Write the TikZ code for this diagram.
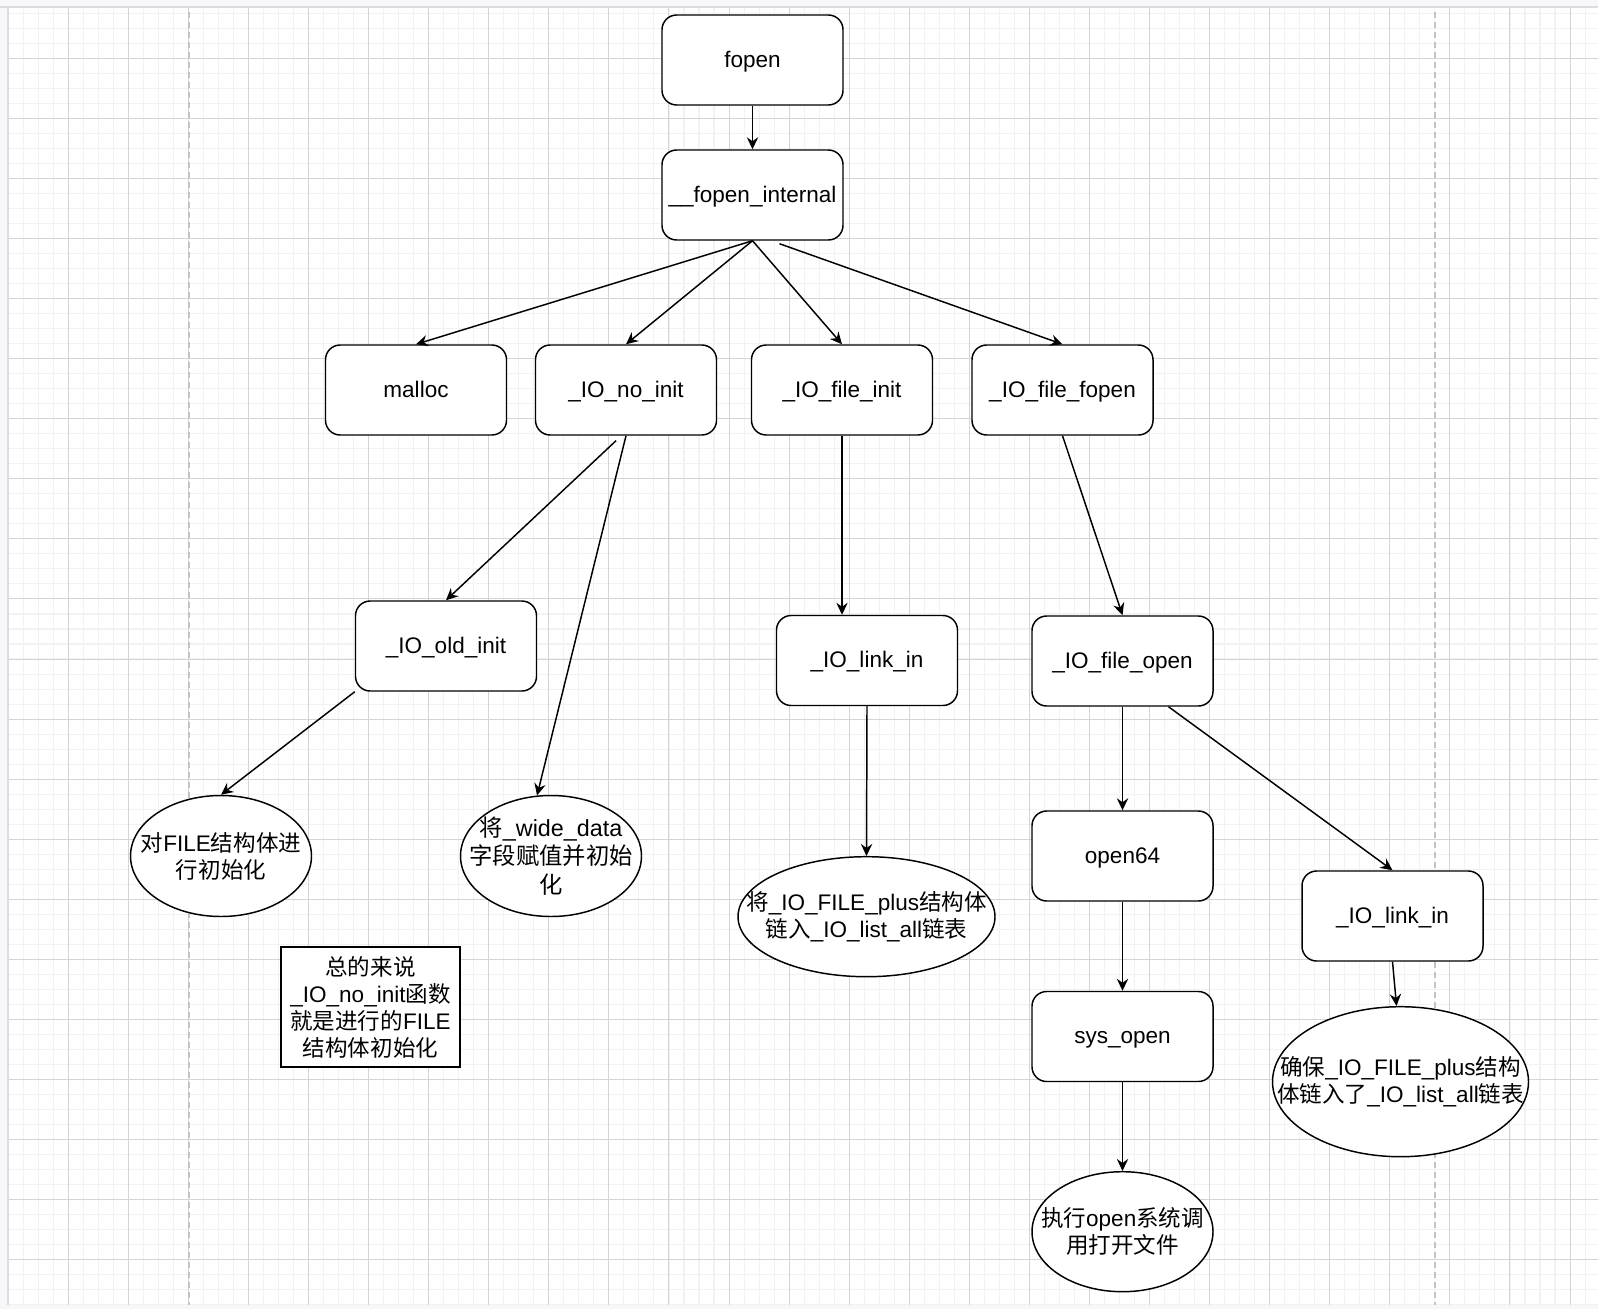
\documentclass[tikz,border=0pt]{standalone}
\usepackage{fontspec}
\setmainfont{Liberation Sans}
\newfontfamily\cjkfont{Noto Sans CJK SC}
\newcommand\zh[1]{{\cjkfont #1}}
\usetikzlibrary{arrows.meta,calc,shapes.geometric}
\definecolor{outbg}{RGB}{247,247,249}
\definecolor{minorc}{RGB}{242,242,242}
\definecolor{majorc}{RGB}{212,212,212}
\definecolor{dashc}{RGB}{195,195,195}
\definecolor{edgec}{RGB}{220,220,224}
\begin{document}
\begin{tikzpicture}[x=0.75pt,y=-0.75pt,
  base/.style={font=\fontsize{16.9}{20.25}\selectfont},
  box/.style={base, draw=black, line width=1.1pt, fill=white, rounded corners=11pt,
    minimum width=135.75pt, minimum height=67.5pt, inner sep=0pt,
    text height=13pt, text depth=2pt},
  oval/.style={draw=black, line width=1.1pt, fill=white, ellipse, inner sep=0pt},
  txt/.style={base, align=center, inner sep=0pt},
  note/.style={base, draw=black, line width=1.1pt, fill=white, minimum width=134.25pt,
    minimum height=90pt, inner sep=0pt, align=center},
  arr/.style={draw=black, line width=1.1pt, -{Stealth[length=9pt,width=8.5pt,inset=3pt]}},
  minorg/.style={draw=minorc, line width=0.8pt},
  majorg/.style={draw=majorc, line width=0.75pt},
  pagebreak/.style={draw=dashc, line width=1.5pt, dash pattern=on 4.5pt off 3pt}
]
\useasboundingbox (0,0) rectangle (1598,1309);
% background and grid
\fill[outbg] (0,0) rectangle (1598,1309);
\fill[white] (8,7) rectangle (1598,1305);
\begin{scope}
  \clip (8,7) rectangle (1598,1305);
  \foreach \i in {0,...,106} {\draw[minorg] ({8.2+15.0175*\i},7) -- ({8.2+15.0175*\i},1305);}
  \foreach \i in {0,...,86} {\draw[minorg] (8,{13.27+15.0175*\i}) -- (1598,{13.27+15.0175*\i});}
  \foreach \i in {0,...,26} {\draw[majorg] ({8.2+60.07*\i},7) -- ({8.2+60.07*\i},1305);}
  \foreach \i in {0,...,20} {\draw[majorg] (8,{58.3+60.07*\i}) -- (1598,{58.3+60.07*\i});}
  \draw[pagebreak] (188.5,12) -- (188.5,1305);
  \draw[pagebreak] (1434.5,12) -- (1434.5,1305);
\end{scope}
\draw[edgec, line width=1.1pt] (0,7) -- (1598,7);
\draw[edgec, line width=1.1pt] (8,7) -- (8,1305);

% rounded boxes
\node[box] (fopen)     at (752.5,60)    {fopen};
\node[box] (intern)    at (752.5,195)   {\_\_fopen\_internal};
\node[box] (malloc)    at (416,390)     {malloc};
\node[box] (noinit)    at (626,390)     {\_IO\_no\_init};
\node[box] (fileinit)  at (842,390)     {\_IO\_file\_init};
\node[box] (filefopen) at (1062.5,390)  {\_IO\_file\_fopen};
\node[box] (oldinit)   at (446,646)     {\_IO\_old\_init};
\node[box] (linkin)    at (867,660.5)   {\_IO\_link\_in};
\node[box] (fileopen)  at (1122.5,661)  {\_IO\_file\_open};
\node[box] (open64)    at (1122.5,856)  {open64};
\node[box] (sysopen)   at (1122.5,1036.5) {sys\_open};
\node[box] (linkin2)   at (1392.5,916)  {\_IO\_link\_in};

% ellipses
\node[oval, minimum width=135.75pt, minimum height=90.75pt,
  label={[txt]center:\zh{对}FILE\zh{结构体进}\\\zh{行初始化}}] (e1) at (221,856) {};
\node[oval, minimum width=135.75pt, minimum height=90.75pt,
  label={[txt, font=\fontsize{17.5}{21.5}\selectfont]center:\zh{将}\_wide\_data\\\zh{字段赋值并初始}\\\zh{化}}] (e2) at (551,856) {};
\node[oval, minimum width=192.75pt, minimum height=90pt,
  label={[txt]center:\zh{将}\_IO\_FILE\_plus\zh{结构体}\\\zh{链入}\_IO\_list\_all\zh{链表}}] (e3) at (866.5,916.7) {};
\node[oval, minimum width=135.75pt, minimum height=90pt,
  label={[txt]center:\zh{执行}open\zh{系统调}\\\zh{用打开文件}}] (e4) at (1122.5,1231.7) {};
\node[oval, minimum width=192pt, minimum height=112.5pt,
  label={[txt]center:\zh{确保}\_IO\_FILE\_plus\zh{结构}\\\zh{体链入了}\_IO\_list\_all\zh{链表}}] (e5) at (1400.5,1081.7) {};

% note
\node[note] (summary) at (370.5,1007) {\zh{总的来说}\\\_IO\_no\_init\zh{函数}\\\zh{就是进行的}FILE\\\zh{结构体初始化}};

% connectors
\coordinate (ia) at ($(intern.south)+(27,3)$);
\coordinate (na) at ($(noinit.south)+(-10,5)$);
\coordinate (fa) at ($(fileopen.south)+(46,0)$);
\draw[arr] (fopen) -- (intern);
\draw[arr] (intern.south) -- (malloc.north);
\draw[arr] (intern.south) -- (noinit.north);
\draw[arr] (intern.south) -- (fileinit.north);
\draw[arr] (ia) -- (filefopen.north);
\draw[arr] (na) -- (oldinit.north);
\draw[arr] (noinit.south) -- (e2.103);
\draw[arr] (oldinit.south west) -- (e1.north);
\draw[arr] (fileinit.south) -- (fileinit.south |- linkin.north);
\draw[arr] (linkin.south) -- (e3.north);
\draw[arr] (filefopen.south) -- (fileopen.north);
\draw[arr] (fileopen) -- (open64);
\draw[arr] (fa) -- (linkin2.north);
\draw[arr] (open64) -- (sysopen);
\draw[arr] (sysopen) -- (e4);
\draw[arr] (linkin2.south) -- (e5.93);
\end{tikzpicture}
\end{document}
